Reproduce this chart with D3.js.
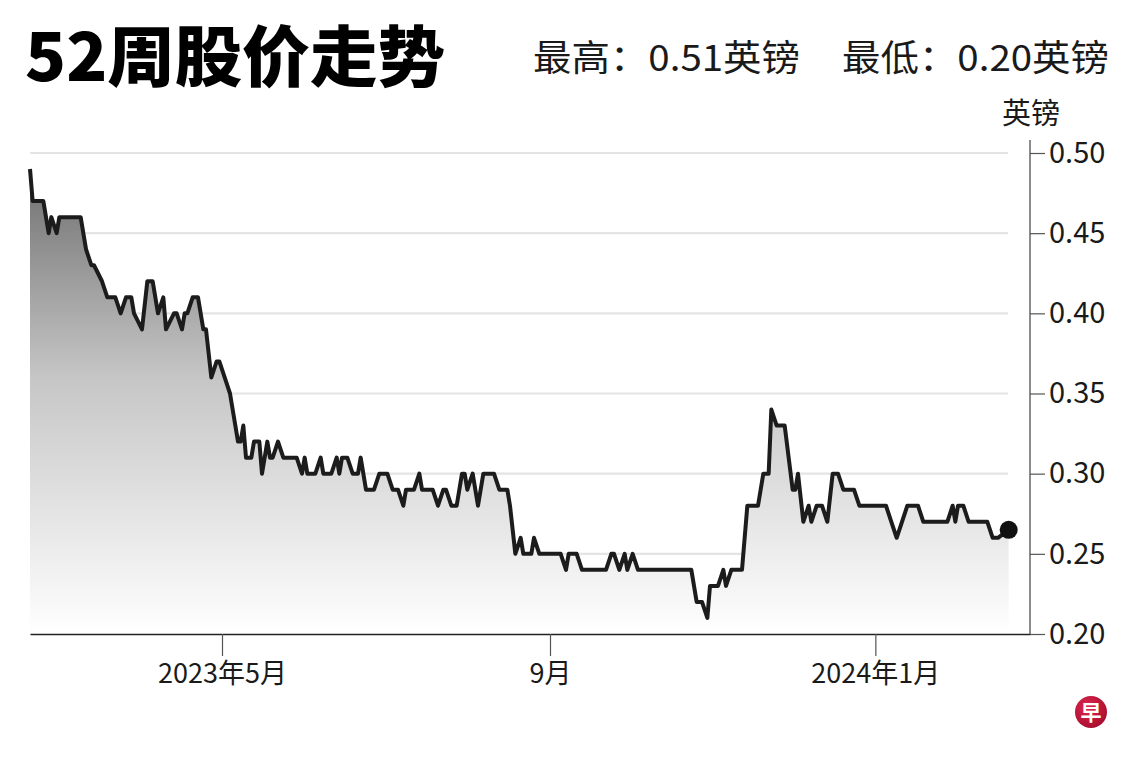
<!DOCTYPE html>
<html>
<head>
<meta charset="utf-8">
<script src="https://cdn.jsdelivr.net/npm/d3@7"></script>
<style>
	body { margin: 0; background: #fff; }
	svg text { font-family: "Noto Sans CJK SC", "Noto Sans", sans-serif; fill: #1a1a1a; }
</style>
</head>
<body>
<svg id="chart" width="1140" height="760"></svg>
<script>
// 52-week share price, GBP
let dates = [
	"2023-02-18","2023-02-19","2023-02-23","2023-02-25","2023-02-26","2023-02-28","2023-03-01","2023-03-09",
	"2023-03-11","2023-03-13","2023-03-14","2023-03-17","2023-03-19","2023-03-22","2023-03-24","2023-03-26",
	"2023-03-28","2023-03-29","2023-04-01","2023-04-03","2023-04-05","2023-04-07","2023-04-09","2023-04-10",
	"2023-04-13","2023-04-14","2023-04-16","2023-04-17","2023-04-18","2023-04-20","2023-04-22","2023-04-24",
	"2023-04-25","2023-04-27","2023-04-29","2023-04-30","2023-05-02","2023-05-04","2023-05-05","2023-05-07",
	"2023-05-08","2023-05-09","2023-05-10","2023-05-12","2023-05-13","2023-05-15","2023-05-16","2023-05-18",
	"2023-05-19","2023-05-20","2023-05-22","2023-05-24","2023-05-29","2023-05-31","2023-06-01","2023-06-02",
	"2023-06-05","2023-06-07","2023-06-08","2023-06-11","2023-06-13","2023-06-14","2023-06-15","2023-06-17",
	"2023-06-19","2023-06-21","2023-06-22","2023-06-24","2023-06-27","2023-06-29","2023-07-02","2023-07-04",
	"2023-07-06","2023-07-08","2023-07-09","2023-07-12","2023-07-14","2023-07-15","2023-07-19","2023-07-21",
	"2023-07-23","2023-07-24","2023-07-26","2023-07-28","2023-07-30","2023-07-31","2023-08-01","2023-08-03",
	"2023-08-05","2023-08-07","2023-08-11","2023-08-13","2023-08-16","2023-08-17","2023-08-19","2023-08-21",
	"2023-08-22","2023-08-25","2023-08-26","2023-08-28","2023-09-05","2023-09-07","2023-09-08","2023-09-11",
	"2023-09-13","2023-09-22","2023-09-24","2023-09-25","2023-09-27","2023-09-29","2023-09-30","2023-10-02",
	"2023-10-04","2023-10-24","2023-10-26","2023-10-28","2023-10-30","2023-10-31","2023-11-03","2023-11-05",
	"2023-11-06","2023-11-08","2023-11-12","2023-11-14","2023-11-18","2023-11-20","2023-11-22","2023-11-23",
	"2023-11-25","2023-11-28","2023-12-01","2023-12-02","2023-12-03","2023-12-05","2023-12-07","2023-12-08",
	"2023-12-10","2023-12-12","2023-12-14","2023-12-16","2023-12-18","2023-12-20","2023-12-24","2023-12-26",
	"2024-01-05","2024-01-07","2024-01-09","2024-01-11","2024-01-13","2024-01-17","2024-01-19","2024-01-28",
	"2024-01-30","2024-01-31","2024-02-01","2024-02-03","2024-02-05","2024-02-12","2024-02-14","2024-02-16",
	"2024-02-20"
];

let prices = [
	0.49,0.47,0.47,0.45,0.46,0.45,0.46,0.46,
	0.44,0.43,0.43,0.42,0.41,0.41,0.40,0.41,
	0.41,0.40,0.39,0.42,0.42,0.40,0.41,0.39,
	0.40,0.40,0.39,0.40,0.40,0.41,0.41,0.39,
	0.39,0.36,0.37,0.37,0.36,0.35,0.34,0.32,
	0.32,0.33,0.31,0.31,0.32,0.32,0.30,0.32,
	0.31,0.31,0.32,0.31,0.31,0.30,0.31,0.30,
	0.30,0.31,0.30,0.30,0.31,0.30,0.31,0.31,
	0.30,0.30,0.31,0.29,0.29,0.30,0.30,0.29,
	0.29,0.28,0.29,0.29,0.30,0.29,0.29,0.28,
	0.29,0.29,0.28,0.28,0.30,0.30,0.29,0.30,
	0.28,0.30,0.30,0.29,0.29,0.28,0.25,0.26,
	0.25,0.25,0.26,0.25,0.25,0.24,0.25,0.25,
	0.24,0.24,0.25,0.25,0.24,0.25,0.24,0.25,
	0.24,0.24,0.22,0.22,0.21,0.23,0.23,0.24,
	0.23,0.24,0.24,0.28,0.28,0.30,0.30,0.34,
	0.33,0.33,0.29,0.29,0.30,0.27,0.28,0.27,
	0.28,0.28,0.27,0.30,0.30,0.29,0.29,0.28,
	0.28,0.27,0.26,0.27,0.28,0.28,0.27,0.27,
	0.28,0.27,0.28,0.28,0.27,0.27,0.26,0.26,
	0.265
];

let yTicks = [0.20, 0.25, 0.30, 0.35, 0.40, 0.45, 0.50];
let xTickDates = ["2023-05-01", "2023-09-01", "2024-01-01"];
let xTickLabels = ["2023年5月", "9月", "2024年1月"];

let parse = d3.timeParse("%Y-%m-%d");
let data = dates.map(function(d, i) { return { date: parse(d), value: prices[i] }; });

let svg = d3.select("svg#chart");

let x = d3.scaleTime()
	.domain([parse("2023-02-18"), parse("2024-02-28")])
	.range([30, 1030]);

let y = d3.scaleLinear()
	.domain([0.20, 0.50])
	.range([634, 153]);

// gradient under the line
let defs = svg.append("defs");
let grad = defs.append("linearGradient")
	.attr("id", "fade")
	.attr("gradientUnits", "userSpaceOnUse")
	.attr("x1", 0).attr("y1", y(0.49))
	.attr("x2", 0).attr("y2", y(0.20));
grad.append("stop").attr("offset", "0%").attr("stop-color", "#6f6f6f");
grad.append("stop").attr("offset", "45%").attr("stop-color", "#c6c6c6");
grad.append("stop").attr("offset", "100%").attr("stop-color", "#ffffff");

let logoGrad = defs.append("radialGradient")
	.attr("id", "logo")
	.attr("cx", "40%").attr("cy", "35%").attr("r", "70%");
logoGrad.append("stop").attr("offset", "0%").attr("stop-color", "#e0284f");
logoGrad.append("stop").attr("offset", "100%").attr("stop-color", "#a50c2e");

// gridlines
svg.append("g")
	.selectAll("line")
	.data(yTicks.filter(function(d) { return d > 0.20; }))
	.enter().append("line")
	.attr("x1", 30)
	.attr("x2", 1008)
	.attr("y1", function(d) { return y(d); })
	.attr("y2", function(d) { return y(d); })
	.style("stroke", "#e4e4e4")
	.style("stroke-width", 2.2);

let area = d3.area()
	.x(function(d) { return x(d.date); })
	.y0(y(0.20))
	.y1(function(d) { return y(d.value); });

let line = d3.line()
	.x(function(d) { return x(d.date); })
	.y(function(d) { return y(d.value); });

svg.append("path")
	.datum(data)
	.attr("d", area)
	.style("fill", "url(#fade)");

svg.append("path")
	.datum(data)
	.attr("d", line)
	.style("fill", "none")
	.style("stroke", "#1c1c1c")
	.style("stroke-width", 4)
	.style("stroke-linejoin", "round");

let last = data[data.length - 1];
svg.append("circle")
	.attr("cx", x(last.date))
	.attr("cy", y(last.value))
	.attr("r", 9)
	.style("fill", "#111");

// x axis
let xAxis = svg.append("g")
	.attr("transform", "translate(0," + y(0.20) + ")")
	.call(d3.axisBottom(x)
		.tickValues(xTickDates.map(parse))
		.tickSize(22)
		.tickSizeOuter(0)
		.tickPadding(6)
		.tickFormat(function(d, i) { return xTickLabels[i]; }));
xAxis.select(".domain").style("stroke", "#222").style("stroke-width", 1.6);
xAxis.selectAll(".tick line").style("stroke", "#555").style("stroke-width", 1.2);
xAxis.selectAll(".tick text")
	.attr("y", 30)
	.attr("dy", "0.71em")
	.style("font-size", "27px");

// y axis
let yAxis = svg.append("g")
	.attr("transform", "translate(1030,0)")
	.call(d3.axisRight(y)
		.tickValues(yTicks)
		.tickSize(15)
		.tickSizeOuter(0)
		.tickPadding(4)
		.tickFormat(d3.format(".2f")));
yAxis.select(".domain")
	.attr("d", "M0," + 140 + "V" + y(0.20))
	.style("stroke", "#666")
	.style("stroke-width", 1.5);
yAxis.selectAll(".tick line").style("stroke", "#555").style("stroke-width", 1.2);
yAxis.selectAll(".tick text").style("font-size", "29px");

svg.append("text")
	.attr("x", 1002)
	.attr("y", 124)
	.style("font-size", "29px")
	.text("英镑");

// title and header
svg.append("text")
	.attr("x", 25)
	.attr("y", 81)
	.attr("textLength", 420)
	.attr("lengthAdjust", "spacingAndGlyphs")
	.style("font-size", "66px")
	.style("font-weight", 900)
	.style("fill", "#000")
	.text("52周股价走势");

svg.append("text")
	.attr("x", 533)
	.attr("y", 71)
	.attr("textLength", 267)
	.attr("lengthAdjust", "spacingAndGlyphs")
	.style("font-size", "36px")
	.text("最高：0.51英镑");

svg.append("text")
	.attr("x", 842)
	.attr("y", 71)
	.attr("textLength", 267)
	.attr("lengthAdjust", "spacingAndGlyphs")
	.style("font-size", "36px")
	.text("最低：0.20英镑");

// logo
svg.append("circle")
	.attr("cx", 1091)
	.attr("cy", 712)
	.attr("r", 16)
	.style("fill", "url(#logo)");
svg.append("text")
	.attr("x", 1091)
	.attr("y", 720)
	.attr("text-anchor", "middle")
	.style("font-size", "21px")
	.style("font-weight", 700)
	.style("fill", "#fff")
	.text("早");
</script>
</body>
</html>
